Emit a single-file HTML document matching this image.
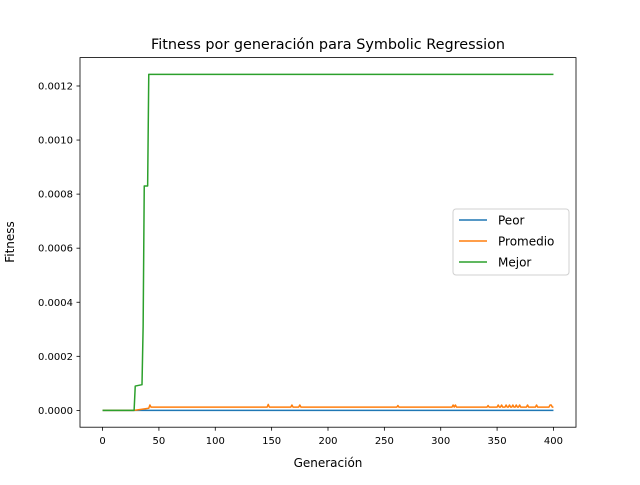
<!DOCTYPE html>
<html><head><meta charset="utf-8"><style>
body{margin:0;background:#fff}
svg text{font-family:"DejaVu Sans","Liberation Sans",sans-serif;fill:#000}
</style></head><body>
<svg id="chart" width="640" height="480" xmlns="http://www.w3.org/2000/svg">
<rect width="640" height="480" fill="#fff"/>
<text x="328" y="49" font-size="14.4" text-anchor="middle">Fitness por generación para Symbolic Regression</text>
<g id="plot"></g>
<text x="328" y="467" font-size="12" text-anchor="middle">Generación</text>
<text transform="translate(14,242) rotate(-90)" font-size="12" text-anchor="middle">Fitness</text>
<g>
<rect x="453" y="209" width="116" height="66" rx="3" fill="#fff" stroke="#ccc" opacity="0.9"/>
<line x1="459" y1="220" x2="487" y2="220" stroke="#1f77b4" stroke-width="1.5"/>
<text x="498" y="224.5" font-size="12">Peor</text>
<line x1="459" y1="241" x2="487" y2="241" stroke="#ff7f0e" stroke-width="1.5"/>
<text x="498" y="245.5" font-size="12">Promedio</text>
<line x1="459" y1="262" x2="487" y2="262" stroke="#2ca02c" stroke-width="1.5"/>
<text x="498" y="266.5" font-size="12">Mejor</text>
</g>
</svg>
<script>
const xTicks=[0,50,100,150,200,250,300,350,400];
const yTicks=[0,0.0002,0.0004,0.0006,0.0008,0.0010,0.0012];
const yTickLabels=["0.0000","0.0002","0.0004","0.0006","0.0008","0.0010","0.0012"];
const peorGen=[0,400];
const peorVal=[0,0];
const mejorGen=[0,28,29,35,36,37,40,41,400];
const mejorVal=[0,0,0.00009,0.000095,0.00031,0.00083,0.00083,0.001243,0.001243];
const promGen=[0,28,35,41,42,43,146,147,148,167,168,169,174,175,176,261,262,263,310,311,312,313,314,341,342,343,350,351,352,353,354,355,357,358,359,360,361,362,363,364,365,366,367,368,369,370,371,376,377,378,384,385,386,396,397,398,399,400];
const promVal=[0,0,0.000004,0.000008,0.00002,0.000012,0.000012,0.000022,0.000012,0.000012,0.00002,0.000012,0.000012,0.00002,0.000012,0.000012,0.000018,0.000012,0.000012,0.00002,0.000012,0.00002,0.000012,0.000012,0.000018,0.000012,0.000012,0.00002,0.000012,0.000012,0.00002,0.000012,0.000012,0.00002,0.000012,0.000012,0.00002,0.000012,0.000012,0.00002,0.000012,0.000012,0.00002,0.000012,0.000012,0.00002,0.000012,0.000012,0.00002,0.000012,0.000012,0.00002,0.000012,0.000012,0.00002,0.00002,0.000012,0.000012];
const L=80,R=576,T=57.6,B=427.2;
const xmin=-20,xmax=420,ymin=-0.0000622,ymax=0.001305;
const sx=v=>L+(v-xmin)/(xmax-xmin)*(R-L);
const sy=v=>B-(v-ymin)/(ymax-ymin)*(B-T);
const NS="http://www.w3.org/2000/svg";
const g=document.getElementById('plot');
function mk(t,a){const e=document.createElementNS(NS,t);for(const k in a)e.setAttribute(k,a[k]);g.appendChild(e);return e;}
function series(gens,vals,color,name){
 const d=gens.map((x,i)=>(i?'L':'M')+sx(x).toFixed(2)+','+sy(vals[i]).toFixed(2)).join('');
 const p=mk('path',{d:d,fill:'none',stroke:color,'stroke-width':1.5,'stroke-linejoin':'round'});
 
 
}
series(peorGen,peorVal,'#1f77b4','line-peor');
series(promGen,promVal,'#ff7f0e','line-promedio');
series(mejorGen,mejorVal,'#2ca02c','line-mejor');
xTicks.forEach(v=>{
 const x=sx(v);
 mk('line',{x1:x,y1:B,x2:x,y2:B+3.5,stroke:'#000','stroke-width':0.8});
 const t=mk('text',{x:x,y:B+17,'font-size':10,'text-anchor':'middle'});t.textContent=v;
 
 
});
yTicks.forEach((v,i)=>{
 const y=sy(v);
 mk('line',{x1:L-3.5,y1:y,x2:L,y2:y,stroke:'#000','stroke-width':0.8});
 const t=mk('text',{x:L-7,y:y+3.5,'font-size':10,'text-anchor':'end'});t.textContent=yTickLabels[i];
 
 
});
const fr=mk('rect',{x:L,y:T,width:R-L,height:B-T,fill:'none',stroke:'#000','stroke-width':0.8});


</script>
</body></html>
